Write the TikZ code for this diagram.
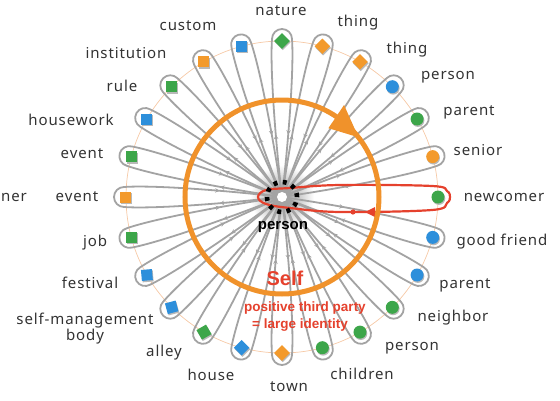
\documentclass[tikz,border=0pt]{standalone}
\usepackage{fontspec}
\setmainfont{Noto Sans}
\newfontfamily\boldfam{Liberation Sans}
\usetikzlibrary{arrows.meta,decorations.markings,shapes.geometric,calc}
\definecolor{dgreen}{HTML}{3DA64A}
\definecolor{dorange}{HTML}{F39A2C}
\definecolor{dblue}{HTML}{2D8FDB}
\definecolor{ring}{HTML}{F0922B}
\definecolor{redl}{HTML}{E5412D}
\definecolor{petal}{HTML}{A3A3A3}
\definecolor{labc}{HTML}{333333}
\definecolor{thinring}{HTML}{F6C9A6}
\begin{document}
\begin{tikzpicture}[x=1pt,y=1pt,
 lab/.style={text=labc,font=\fontsize{15}{18}\selectfont\addfontfeature{LetterSpace=6},inner sep=0pt,align=center},
 petalline/.style={draw=petal,line width=1.8pt,postaction={decorate},
   decoration={markings,
     mark=at position 0.18 with {\arrow{Stealth[length=4.5pt,width=4.5pt]}},
     mark=at position 0.82 with {\arrow{Stealth[length=4.5pt,width=4.5pt]}}}},
 dotc/.style={circle,minimum size=13pt,inner sep=0pt},
 dots/.style={rectangle,minimum size=11pt,inner sep=0pt},
 redtxt/.style={text=redl,inner sep=0pt}
]
\useasboundingbox (-282,-203) rectangle (278,197);
% thin outer ring
\draw[thinring,line width=0.7pt] (0,0) circle (156);
% center gray disc
\shade[inner color=gray!85,outer color=white] (0,0) circle (32);
% petals
\foreach \a in {15,30,...,345}{
  \begin{scope}[rotate=\a]
    \path[petalline] (0,0) .. controls (60,7) and (130,12) .. (158,10)
      arc[start angle=90,end angle=-90,radius=10]
      .. controls (130,-12) and (60,-7) .. (0,0);
  \end{scope}
}
% red loop
\draw[redl,line width=2.2pt] plot[smooth cycle,tension=0.6] coordinates {(-24,0) (-16,7) (8,9) (58,12) (150,11) (165,6) (168,0) (165,-6) (150,-13) (58,-15) (8,-11) (-16,-7)};
\fill[redl] (83,-15) -- (93,-10) -- (93,-20) -- cycle;
\fill[redl] (71,-15) circle (2.6);
% orange ring with arrow
\draw[ring,line width=5pt] (0,0) circle (97);
\fill[ring] (38:97) -- (56:111) -- (56:83) -- cycle;
% center
\node[circle,fill=white,minimum size=10pt,inner sep=0pt] (c) at (0,0) {};
\draw[black,line width=4.6pt,dash pattern=on 4pt off 5.4pt] (c.center) circle (15);
% dots: circles
\foreach \a/\col in {45/dblue,30/dgreen,15/dorange,0/dgreen,-15/dblue,-30/dblue,-45/dgreen,-60/dgreen,-75/dgreen}{
  \fill[gray!55] ($(\a:156)+(0.8,-1.4)$) circle (6.5);
  \node[dotc,fill=\col] (dot\a) at (\a:156) {};
}
% dots: squares
\foreach \a/\col/\r in {90/dgreen/45,75/dorange/45,60/dorange/45,-90/dorange/45,-105/dblue/45,-120/dgreen/30,-135/dblue/15,-150/dblue/5,-165/dgreen/0,180/dorange/0,165/dgreen/0,150/dblue/0,135/dgreen/0,120/dorange/0,105/dblue/0}{
  \node[dots,fill=gray!55,rotate=\r] at ($(\a:156)+(0.8,-1.4)$) {};
  \node[dots,fill=\col,rotate=\r] (dot\a) at (\a:156) {};
}
% labels
\node[lab] (l1) at (-1,186) {nature};
\node[lab] (l2) at (76,174) {thing};
\node[lab] (l3) at (125,147) {thing};
\node[lab] (l4) at (166,120) {person};
\node[lab] (l5) at (187,85) {parent};
\node[lab] (l6) at (196,47) {senior};
\node[lab] (l7) at (222,0) {newcomer};
\node[lab] (l8) at (220,-45) {good friend};
\node[lab] (l9) at (183,-88) {parent};
\node[lab] (l10) at (171,-121) {neighbor};
\node[lab] (l11) at (130,-151) {person};
\node[lab] (l12) at (80,-177) {children};
\node[lab] (l13) at (7,-190) {town};
\node[lab] (l14) at (-71,-178) {house};
\node[lab] (l15) at (-118,-156) {alley};
\node[lab] (l16) at (-197,-132) {self-management\\[-2pt]body};
\node[lab] (l17) at (-192,-86) {festival};
\node[lab] (l18) at (-187,-46) {job};
\node[lab] (l19) at (-205,0) {event};
\node[lab,anchor=west] (l0) at (-281,0) {ner};
\node[lab] (l20) at (-200,43) {event};
\node[lab] (l21) at (-211,77) {housework};
\node[lab] (l22) at (-160,111) {rule};
\node[lab] (l23) at (-156,144) {institution};
\node[lab] (l24) at (-94,171) {custom};
% center texts
\node[inner sep=0pt,font=\boldfam\bfseries\fontsize{15}{18}\selectfont] (pl) at (1,-30) {person};
\node[redtxt,font=\boldfam\bfseries\fontsize{20}{22}\selectfont] (self) at (3,-81) {Self};
\node[redtxt,font=\boldfam\bfseries\fontsize{13.5}{15}\selectfont] (pt1) at (23,-111) {positive third party};
\node[redtxt,font=\boldfam\bfseries\fontsize{13.5}{15}\selectfont] (pt2) at (18,-128) {= large identity};
\end{tikzpicture}
\end{document}
